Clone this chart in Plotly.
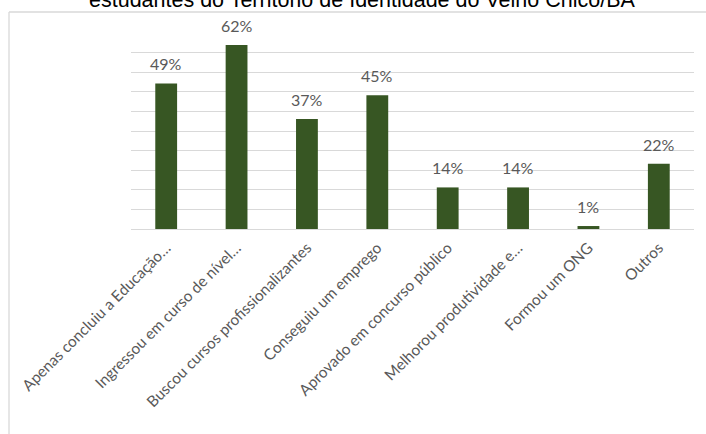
import plotly.graph_objects as go

# Categories and percentages shown on the chart
categories = [
    "Apenas concluiu a Educação…",
    "Ingressou em curso de nível…",
    "Buscou cursos profissionalizantes",
    "Conseguiu um emprego",
    "Aprovado em concurso público",
    "Melhorou produtividade e…",
    "Formou um ONG",
    "Outros",
]
percentages = [49, 62, 37, 45, 14, 14, 1, 22]
title_text = "estudantes do Território de Identidade do Velho Chico/BA"

W, H = 706, 434
L, R, T, B = 131, 12, 33, 205
plot_w = W - L - R
plot_h = H - T - B

y_max = 66
grid_step = y_max / 10

bar_color = "#375623"
label_color = "#595959"
grid_color = "#D9D9D9"
label_font = "Lato"

fig = go.Figure(
    go.Bar(
        x=categories,
        y=percentages,
        marker=dict(color=bar_color, line=dict(width=0)),
        width=0.31,
        hoverinfo="skip",
    )
)

# Value labels above each bar
for cat, val in zip(categories, percentages):
    fig.add_annotation(
        x=cat, y=val, xref="x", yref="y",
        text=f"{val}%", showarrow=False,
        yanchor="bottom", yshift=8,
        font=dict(family=label_font, size=16, color=label_color),
    )


def px_to_paper_x(px):
    return (px - L) / plot_w


def px_to_paper_y(py):
    return (H - B - py) / plot_h


# Title, partly above the top edge of the page
fig.add_annotation(
    x=px_to_paper_x(362), y=px_to_paper_y(14), xref="paper", yref="paper",
    text=title_text, showarrow=False, xanchor="center", yanchor="bottom",
    font=dict(family="Liberation Sans, Arial", size=21.5, color="#000000"),
)

# Chart frame (top and left edges)
border = dict(color=grid_color, width=1.3)
fig.add_shape(type="line", xref="paper", yref="paper",
              x0=px_to_paper_x(9), x1=px_to_paper_x(712),
              y0=px_to_paper_y(12), y1=px_to_paper_y(12), line=border)
fig.add_shape(type="line", xref="paper", yref="paper",
              x0=px_to_paper_x(9), x1=px_to_paper_x(9),
              y0=px_to_paper_y(12), y1=px_to_paper_y(440), line=border)

fig.update_layout(
    width=W, height=H,
    margin=dict(l=L, r=R, t=T, b=B, autoexpand=False),
    paper_bgcolor="white", plot_bgcolor="white",
    showlegend=False,
    bargap=0.69,
    xaxis=dict(
        tickangle=-45,
        tickfont=dict(family=label_font, size=15.4, color=label_color),
        ticklabelstandoff=6,
        showgrid=False, showline=False, zeroline=False,
        ticks="", automargin=False,
    ),
    yaxis=dict(
        range=[0, y_max],
        tick0=0, dtick=grid_step,
        showticklabels=False,
        showgrid=True, gridcolor=grid_color, gridwidth=1.3,
        zeroline=True, zerolinecolor=grid_color, zerolinewidth=1.3,
        showline=False, ticks="", automargin=False,
    ),
)

fig.write_html("out.html")
